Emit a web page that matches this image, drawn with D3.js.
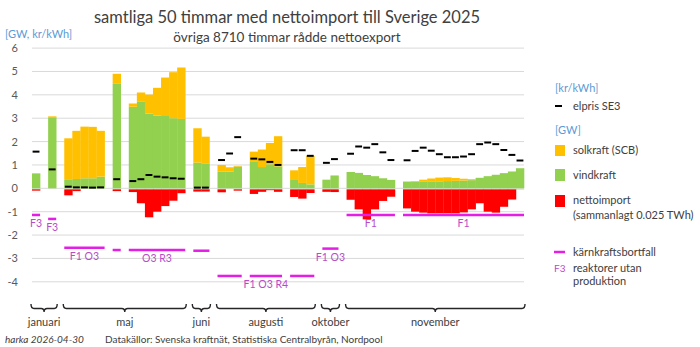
<!DOCTYPE html>
<html>
<head>
<meta charset="utf-8">
<script src="https://cdn.jsdelivr.net/npm/d3@7"></script>
<style>
body { margin: 0; background: #fff; }
svg { display: block; }
text { font-family: Lato, "Open Sans", sans-serif; }
</style>
</head>
<body>
<svg id="chart" width="700" height="347"></svg>
<script>
// hours grouped into runs of consecutive import hours
const groupSizes = [1, 1, 5, 1, 7, 2, 3, 4, 3, 2, 6, 15];
const karnkraft = [-1.14, -1.31, -2.54, -2.64, -2.64, -2.67, -3.75, -3.75, -3.75, -2.58, -1.14, -1.14];
const reaktorer = ["F3", "F3", "F1 O3", "", "O3 R3", "", "", "F1 O3 R4", "", "F1 O3", "F1", "F1"];

const months = ["januari", "maj", "juni", "augusti", "oktober", "november"];
const monthGroups = [2, 3, 1, 3, 1, 2];

const vindkraft = [
  0.64, 3.04,
  0.36, 0.40, 0.43, 0.43, 0.50,
  4.47,
  3.49, 3.70, 3.20, 3.11, 3.13, 3.00, 2.97,
  1.10, 1.07,
  0.71, 0.72, 0.93,
  1.13, 0.91, 1.03, 0.94,
  0.39, 0.23, 0.17,
  0.37, 0.55,
  0.70, 0.66, 0.57, 0.52, 0.43, 0.36,
  0.29, 0.29, 0.30, 0.30, 0.30, 0.31, 0.32, 0.33, 0.35, 0.45, 0.52, 0.58, 0.65, 0.72, 0.86
];
const solkraft = [
  0, 0.04,
  1.78, 2.06, 2.21, 2.20, 1.96,
  0.43,
  0.14, 0.40, 0.81, 1.19, 1.61, 1.97, 2.20,
  1.47, 1.14,
  0.29, 0.18, 0.03,
  0.44, 0.75, 0.91, 1.29,
  0.38, 0.68, 1.22,
  0, 0,
  0, 0, 0, 0, 0, 0,
  0, 0.02, 0.07, 0.12, 0.16, 0.16, 0.12, 0.08, 0.04, 0, 0, 0, 0, 0, 0
];
const nettoimport = [
  -0.10, -0.02,
  -0.30, -0.12, -0.03, -0.02, -0.02,
  -0.12,
  -0.16, -0.64, -1.24, -1.00, -0.76, -0.53, -0.21,
  -0.14, -0.14,
  -0.17, -0.02, -0.10,
  -0.24, -0.15, -0.08, -0.15,
  -0.37, -0.44, -0.20,
  -0.15, -0.16,
  -0.49, -0.90, -1.33, -0.90, -0.54, -0.36,
  -0.86, -1.00, -1.04, -1.07, -1.07, -1.07, -1.07, -1.03, -0.90, -0.64, -1.00, -1.04, -0.79, -0.48, -0.05
];
const elpris = [
  1.57, 0.81,
  0.07, 0.04, 0.04, 0.03, 0.04,
  0.39,
  0.31, 0.39, 0.57, 0.50, 0.47, 0.43, 0.41,
  0.03, 0.03,
  1.21, 1.49, 2.19,
  1.27, 1.24, 1.13, 1.00,
  1.63, 1.63, 1.39,
  1.09, 1.25,
  1.48, 1.79, 1.74, 1.89, 1.54, 1.21,
  1.20, 1.60, 1.74, 1.61, 1.46, 1.33, 1.33, 1.36, 1.46, 1.89, 1.96, 1.89, 1.64, 1.43, 1.19
];
const yTicks = [-4, -3, -2, -1, 0, 1, 2, 3, 4, 5, 6];

const colors = { sol: "#FFC000", vind: "#92D050", netto: "#FF0000", pris: "#000000", karn: "#E41EE4", karnText: "#B94BC8", blue: "#5B9BD5", text: "#404040" };

// one slot per hour, one empty slot between runs
const hours = [];
const groups = [];
let slot = 0, h = 0;
groupSizes.forEach((n, g) => {
  groups.push({ first: slot, last: slot + n - 1, value: karnkraft[g], label: reaktorer[g] });
  for (let i = 0; i < n; i++) {
    hours.push({ slot: slot, vind: vindkraft[h], sol: solkraft[h], netto: nettoimport[h], pris: elpris[h] });
    slot++; h++;
  }
  slot++;
});
const nSlots = slot - 1;

const svg = d3.select("#chart");
const margin = { left: 32, right: 176, top: 48, bottom: 65 };

const x = d3.scaleBand()
  .domain(d3.range(nSlots))
  .range([margin.left, 700 - margin.right])
  .padding(0);
const y = d3.scaleLinear()
  .domain([-4, 6])
  .range([281.8, 48.1]);
const bw = x.bandwidth();

// grid
svg.append("g")
  .selectAll("line")
  .data(yTicks)
  .enter().append("line")
  .attr("x1", margin.left).attr("x2", 700 - margin.right)
  .attr("y1", d => y(d)).attr("y2", d => y(d))
  .attr("stroke", "#D9D9D9").attr("stroke-width", 1);

svg.append("g")
  .selectAll("text")
  .data(yTicks)
  .enter().append("text")
  .attr("x", 18).attr("y", d => y(d) + 4)
  .attr("text-anchor", "end")
  .style("font-size", "11px")
  .attr("fill", "#595959")
  .text(d => d);

// bars
const bars = svg.append("g");
bars.selectAll(".vind").data(hours).enter().append("rect")
  .attr("x", d => x(d.slot)).attr("width", bw + 0.3)
  .attr("y", d => y(d.vind)).attr("height", d => y(0) - y(d.vind))
  .attr("fill", colors.vind);
bars.selectAll(".sol").data(hours.filter(d => d.sol > 0)).enter().append("rect")
  .attr("x", d => x(d.slot)).attr("width", bw + 0.3)
  .attr("y", d => y(d.vind + d.sol)).attr("height", d => y(d.vind) - y(d.vind + d.sol))
  .attr("fill", colors.sol);
bars.selectAll(".netto").data(hours).enter().append("rect")
  .attr("x", d => x(d.slot)).attr("width", bw + 0.3)
  .attr("y", y(0) + 1).attr("height", d => Math.max(0, y(d.netto) - y(0) - 1))
  .attr("fill", colors.netto);

// elpris dashes
svg.append("g")
  .selectAll("line")
  .data(hours)
  .enter().append("line")
  .attr("x1", d => x(d.slot) + 0.6).attr("x2", d => x(d.slot) + bw - 0.6)
  .attr("y1", d => y(d.pris)).attr("y2", d => y(d.pris))
  .attr("stroke", colors.pris).attr("stroke-width", 2);

// nuclear outage lines + reactor labels
const karn = svg.append("g");
karn.selectAll("line")
  .data(groups)
  .enter().append("line")
  .attr("x1", d => x(d.first)).attr("x2", d => x(d.last) + bw)
  .attr("y1", d => y(d.value)).attr("y2", d => y(d.value))
  .attr("stroke", colors.karn).attr("stroke-width", 2.5);
karn.selectAll("text")
  .data(groups.filter(d => d.label))
  .enter().append("text")
  .attr("x", d => (x(d.first) + x(d.last) + bw) / 2)
  .attr("y", d => y(d.value) + 12)
  .attr("text-anchor", "middle")
  .style("font-size", "10.5px")
  .attr("fill", colors.karnText)
  .text(d => d.label);

// month braces
const braceTop = 304, braceMid = 308.5, braceTip = 312;
let gi = 0;
months.forEach((m, i) => {
  const g0 = groups[gi], g1 = groups[gi + monthGroups[i] - 1];
  gi += monthGroups[i];
  const x0 = x(g0.first) - 1, x1 = x(g1.last) + bw + 1, xm = (x0 + x1) / 2;
  const r = 3;
  const p = `M${x0},${braceTop} Q${x0},${braceMid} ${x0 + r},${braceMid} L${xm - r},${braceMid} Q${xm},${braceMid} ${xm},${braceTip} ` +
            `Q${xm},${braceMid} ${xm + r},${braceMid} L${x1 - r},${braceMid} Q${x1},${braceMid} ${x1},${braceTop}`;
  svg.append("path").attr("d", p).attr("fill", "none").attr("stroke", "#262626").attr("stroke-width", 1.4);
  svg.append("text").attr("x", xm).attr("y", 326).attr("text-anchor", "middle")
    .style("font-size", "11px").attr("fill", colors.text).text(m);
});

// titles
svg.append("text").attr("x", 287).attr("y", 23).attr("text-anchor", "middle")
  .style("font-size", "16.5px").attr("fill", colors.text)
  .text("samtliga 50 timmar med nettoimport till Sverige 2025");
svg.append("text").attr("x", 287).attr("y", 42).attr("text-anchor", "middle")
  .style("font-size", "13.5px").attr("fill", colors.text)
  .text("övriga 8710 timmar rådde nettoexport");
svg.append("text").attr("x", 5).attr("y", 38)
  .style("font-size", "11px").attr("fill", colors.blue)
  .text("[GW, kr/kWh]");

// legend
const lg = svg.append("g").style("font-size", "11px");
const lx = 555, tx = 573;
lg.append("text").attr("x", lx).attr("y", 92).attr("fill", colors.blue).text("[kr/kWh]");
lg.append("line").attr("x1", lx).attr("x2", lx + 7).attr("y1", 106).attr("y2", 106)
  .attr("stroke", colors.pris).attr("stroke-width", 2);
lg.append("text").attr("x", tx).attr("y", 110).attr("fill", colors.text).text("elpris SE3");
lg.append("text").attr("x", lx).attr("y", 134).attr("fill", colors.blue).text("[GW]");
lg.append("rect").attr("x", lx).attr("y", 145).attr("width", 10).attr("height", 11).attr("fill", colors.sol);
lg.append("text").attr("x", tx).attr("y", 154).attr("fill", colors.text).text("solkraft (SCB)");
lg.append("rect").attr("x", lx).attr("y", 169).attr("width", 10).attr("height", 12).attr("fill", colors.vind);
lg.append("text").attr("x", tx).attr("y", 179).attr("fill", colors.text).text("vindkraft");
lg.append("rect").attr("x", lx).attr("y", 195).attr("width", 10).attr("height", 12).attr("fill", colors.netto);
lg.append("text").attr("x", tx).attr("y", 204).attr("fill", colors.text).text("nettoimport");
lg.append("text").attr("x", tx).attr("y", 219).attr("fill", colors.text).text("(sammanlagt 0.025 TWh)");
lg.append("line").attr("x1", lx - 1).attr("x2", lx + 10).attr("y1", 252).attr("y2", 252)
  .attr("stroke", colors.karn).attr("stroke-width", 2.5);
lg.append("text").attr("x", tx).attr("y", 256).attr("fill", colors.text).text("kärnkraftsbortfall");
lg.append("text").attr("x", lx - 1).attr("y", 272).style("font-size", "10px").attr("fill", colors.karnText).text("F3");
lg.append("text").attr("x", tx).attr("y", 272).attr("fill", colors.text).text("reaktorer utan");
lg.append("text").attr("x", tx).attr("y", 285).attr("fill", colors.text).text("produktion");

// footer
svg.append("text").attr("x", 5).attr("y", 343).style("font-size", "10px").style("font-style", "italic")
  .attr("fill", colors.text).text("harka 2026-04-30");
svg.append("text").attr("x", 105).attr("y", 343).style("font-size", "10px")
  .attr("fill", colors.text).text("Datakällor: Svenska kraftnät, Statistiska Centralbyrån, Nordpool");
</script>
</body>
</html>
